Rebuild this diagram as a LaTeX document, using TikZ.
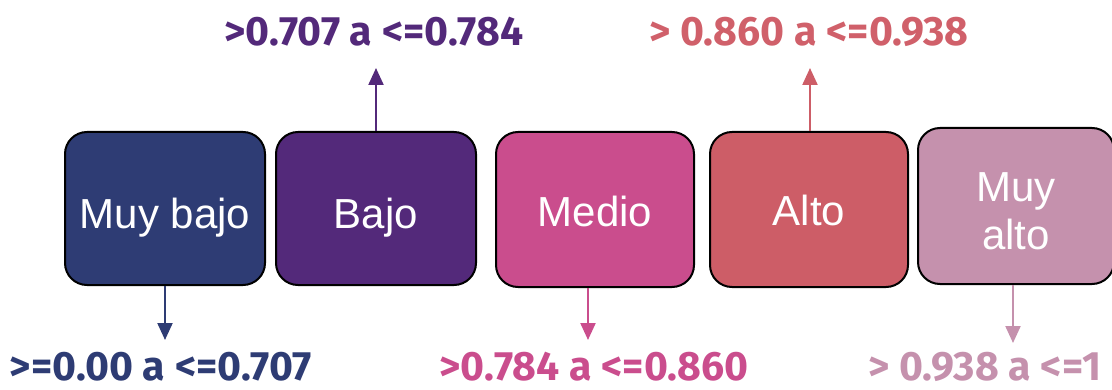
\documentclass[tikz,border=0pt]{standalone}
\usepackage{fontspec}
\setmainfont{Liberation Sans}
\newfontfamily\lblfont{Fira Sans}
\usetikzlibrary{arrows.meta}
\definecolor{cA}{HTML}{2E3C74}
\definecolor{cB}{HTML}{53297A}
\definecolor{cC}{HTML}{CA4D8D}
\definecolor{cD}{HTML}{CD5D67}
\definecolor{cE}{HTML}{C591AD}
\definecolor{cDl}{HTML}{D0606A}
\newcommand{\lowered}[2]{\raisebox{-#1}[0pt][0pt]{#2}}
\tikzset{
  level/.style={draw=black, line width=2pt, rounded corners=22pt, text=white,
    font=\fontsize{42}{46}\selectfont, align=center, inner sep=0pt},
  rangelbl/.style={font=\lblfont\bfseries\fontsize{41}{44}\selectfont, inner sep=0pt, anchor=base},
  conn/.style={line width=2.2pt, -{Triangle[width=15pt,length=17pt]}},
}
\begin{document}
\begin{tikzpicture}[x=1pt,y=1pt]
\useasboundingbox (0,0) rectangle (1112,389);
\begin{scope}
\clip (0,0) rectangle (1112,389);
\node[level, fill=cA, minimum width=200pt, minimum height=153pt] (m1) at (165,180.5) {\lowered{20pt}{Muy bajo}};
\node[level, fill=cB, minimum width=200pt, minimum height=153pt] (m2) at (376,180.5) {\lowered{20pt}{Bajo}};
\node[level, fill=cC, minimum width=198pt, minimum height=155pt] (m3) at (595,179.5) {\lowered{17pt}{Medio}};
\node[level, fill=cD, minimum width=198pt, minimum height=155pt] (m4) at (809,179.5) {\lowered{16pt}{Alto}};
\node[level, fill=cE, minimum width=196pt, minimum height=156pt] (m5) at (1016,183) {\lowered{44pt}{\begin{tabular}[b]{@{}c@{}}Muy\\[2pt]alto\end{tabular}}};
\end{scope}

\coordinate (t1) at (165,49);
\coordinate (t2) at (376,321);
\coordinate (t3) at (588,49);
\coordinate (t4) at (810,321);
\coordinate (t5) at (1013,46);

\draw[conn, draw=cA, fill=cA] (m1.south -| t1) -- (t1);
\draw[conn, draw=cB, fill=cB] (m2.north -| t2) -- (t2);
\draw[conn, draw=cC, fill=cC] (m3.south -| t3) -- (t3);
\draw[conn, draw=cD, fill=cD] (m4.north -| t4) -- (t4);
\draw[conn, draw=cE, fill=cE] (m5.south -| t5) -- (t5);

\node[rangelbl, text=cA] (l1) at (161,9) {>=0.00 a <=0.707};
\node[rangelbl, text=cB] (l2) at (374,343) {>0.707 a <=0.784};
\node[rangelbl, text=cC] (l3) at (594,9) {>0.784 a <=0.860};
\node[rangelbl, text=cDl] (l4) at (809,343) {> 0.860 a <=0.938};
\node[rangelbl, text=cE] (l5) at (985,9) {> 0.938 a <=1};
\end{tikzpicture}
\end{document}
